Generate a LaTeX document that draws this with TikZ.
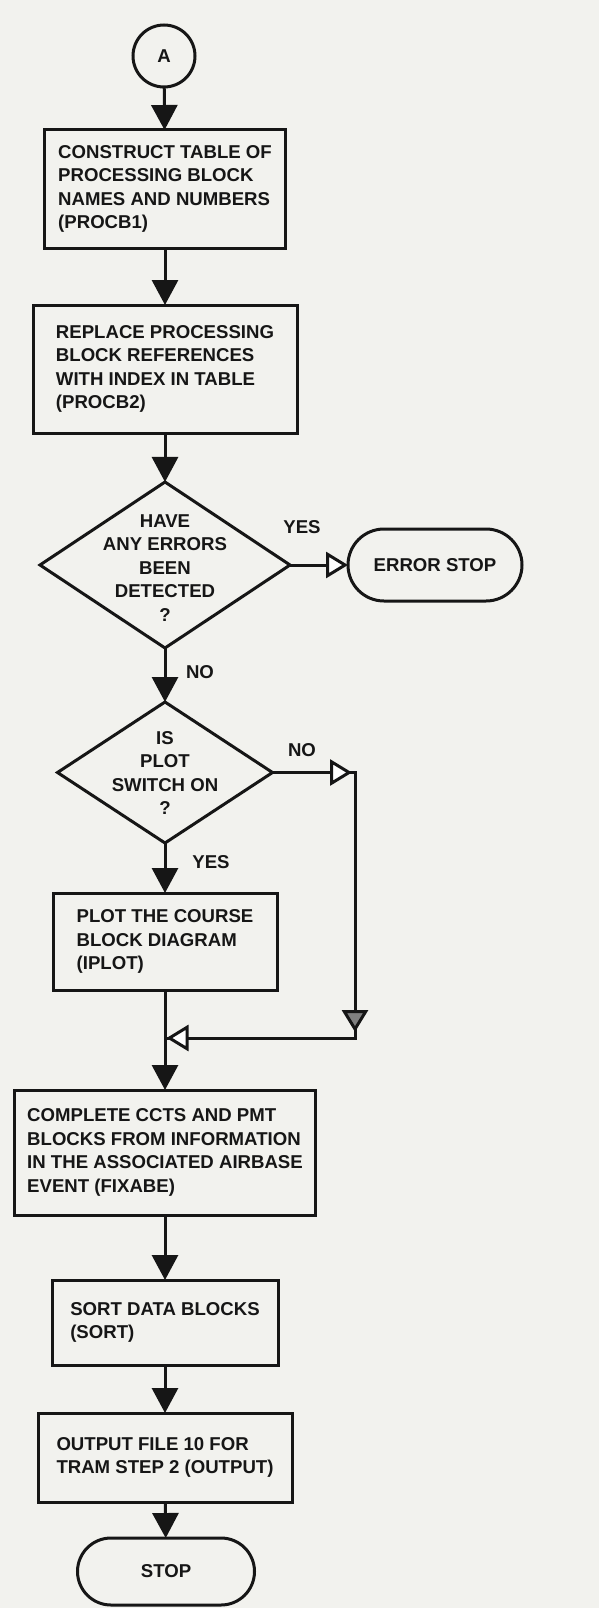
\documentclass[tikz,border=0pt]{standalone}
\usepackage{fontspec}
\setmainfont{Liberation Sans}
\usetikzlibrary{shapes.geometric,shapes.misc,arrows.meta}
\definecolor{bg}{RGB}{242,242,238}
\definecolor{ink}{RGB}{22,22,22}
\begin{document}
\begin{tikzpicture}[x=1pt,y=-1pt,
  every node/.style={font=\fontsize{18.6}{23.5}\selectfont\bfseries, text=ink, outer sep=0pt},
  wire/.style={draw=ink, line width=3pt},
  procbox/.style={rectangle, draw=ink, line width=3pt, align=left, inner sep=0pt},
  decision/.style={diamond, draw=ink, line width=3pt, inner sep=0pt},
  terminal/.style={rounded rectangle, draw=ink, line width=3pt, inner sep=0pt},
  connector/.style={circle, draw=ink, line width=3pt, inner sep=0pt},
  arr/.style={wire, -{Triangle[length=25pt,width=26pt]}},
  arrw/.style={wire, -{Triangle[length=22pt,width=26pt,fill=white]}},
  arrg/.style={wire, -{Triangle[length=22pt,width=26pt,fill=gray]}},
  lbl/.style={inner sep=0pt}
]
\useasboundingbox (0,0) rectangle (599,1608);
\fill[bg] (0,0) rectangle (599,1608);

% nodes
\node[connector, minimum size=62pt] (A) at (164,56) {A};
\node[procbox, minimum width=241pt, minimum height=118pt] (b1) at (165,189)
  {CONSTRUCT TABLE OF\\PROCESSING BLOCK\\NAMES AND NUMBERS\\(PROCB1)};
\node[procbox, minimum width=264pt, minimum height=128pt] (b2) at (165,369)
  {REPLACE PROCESSING\\BLOCK REFERENCES\\WITH INDEX IN TABLE\\(PROCB2)};
\node[decision, minimum width=250pt, minimum height=166pt] (d1) at (165,565) {};
\node[lbl, align=center] (d1t) at (165,568) {HAVE\\ANY ERRORS\\BEEN\\DETECTED\\?};
\node[terminal, minimum width=174pt, minimum height=72pt] (err) at (435,565) {ERROR STOP};
\node[decision, minimum width=215pt, minimum height=141pt] (d2) at (165,772.5) {};
\node[lbl, align=center] (d2t) at (165,773) {IS\\PLOT\\SWITCH ON\\?};
\node[procbox, minimum width=224pt, minimum height=97pt] (b3) at (165,941.5)
  {PLOT THE COURSE\\BLOCK DIAGRAM\\(IPLOT)};
\node[procbox, minimum width=301pt, minimum height=125pt] (b4) at (165,1152.5)
  {COMPLETE CCTS AND PMT\\BLOCKS FROM INFORMATION\\IN THE ASSOCIATED AIRBASE\\EVENT (FIXABE)};
\node[procbox, minimum width=226pt, minimum height=85pt] (b5) at (165,1322.5)
  {SORT DATA BLOCKS\\(SORT)};
\node[procbox, minimum width=254pt, minimum height=89pt] (b6) at (165,1457.5)
  {OUTPUT FILE 10 FOR\\TRAM STEP 2 (OUTPUT)};
\node[terminal, minimum width=177pt, minimum height=67pt] (stop) at (166,1571.5) {STOP};

% labels
\node[lbl] (yes1) at (302,527) {YES};
\node[lbl] (no1) at (200,672) {NO};
\node[lbl] (no2) at (302,750) {NO};
\node[lbl] (yes2) at (211,862) {YES};

% coordinates
\coordinate (cr) at (355,772.5);
\coordinate (cb) at (355,1038);
\coordinate (j) at (165,1038);

% connectors
\draw[arr] (A) -- (b1);
\draw[arr] (b1) -- (b2);
\draw[arr] (b2) -- (d1);
\draw[arrw] (d1.east) -- (err.west);
\draw[arr] (d1.south) -- (d2.north);
\draw[wire] (d2.east) -- (cr) -- (cb) -- (j);
\draw[arrw] (d2.east) -- ([xshift=-3pt]cr);
\draw[arrg] (cr) -- ([yshift=6pt]cb);
\draw[arrw] (cb) -- ([xshift=1.5pt]j);
\draw[arr] (d2.south) -- (b3);
\draw[wire] (b3) -- (j);
\draw[arr] (j) -- (b4);
\draw[arr] (b4) -- (b5);
\draw[arr] (b5) -- (b6);
\draw[arr] (b6) -- (stop);
\end{tikzpicture}
\end{document}
